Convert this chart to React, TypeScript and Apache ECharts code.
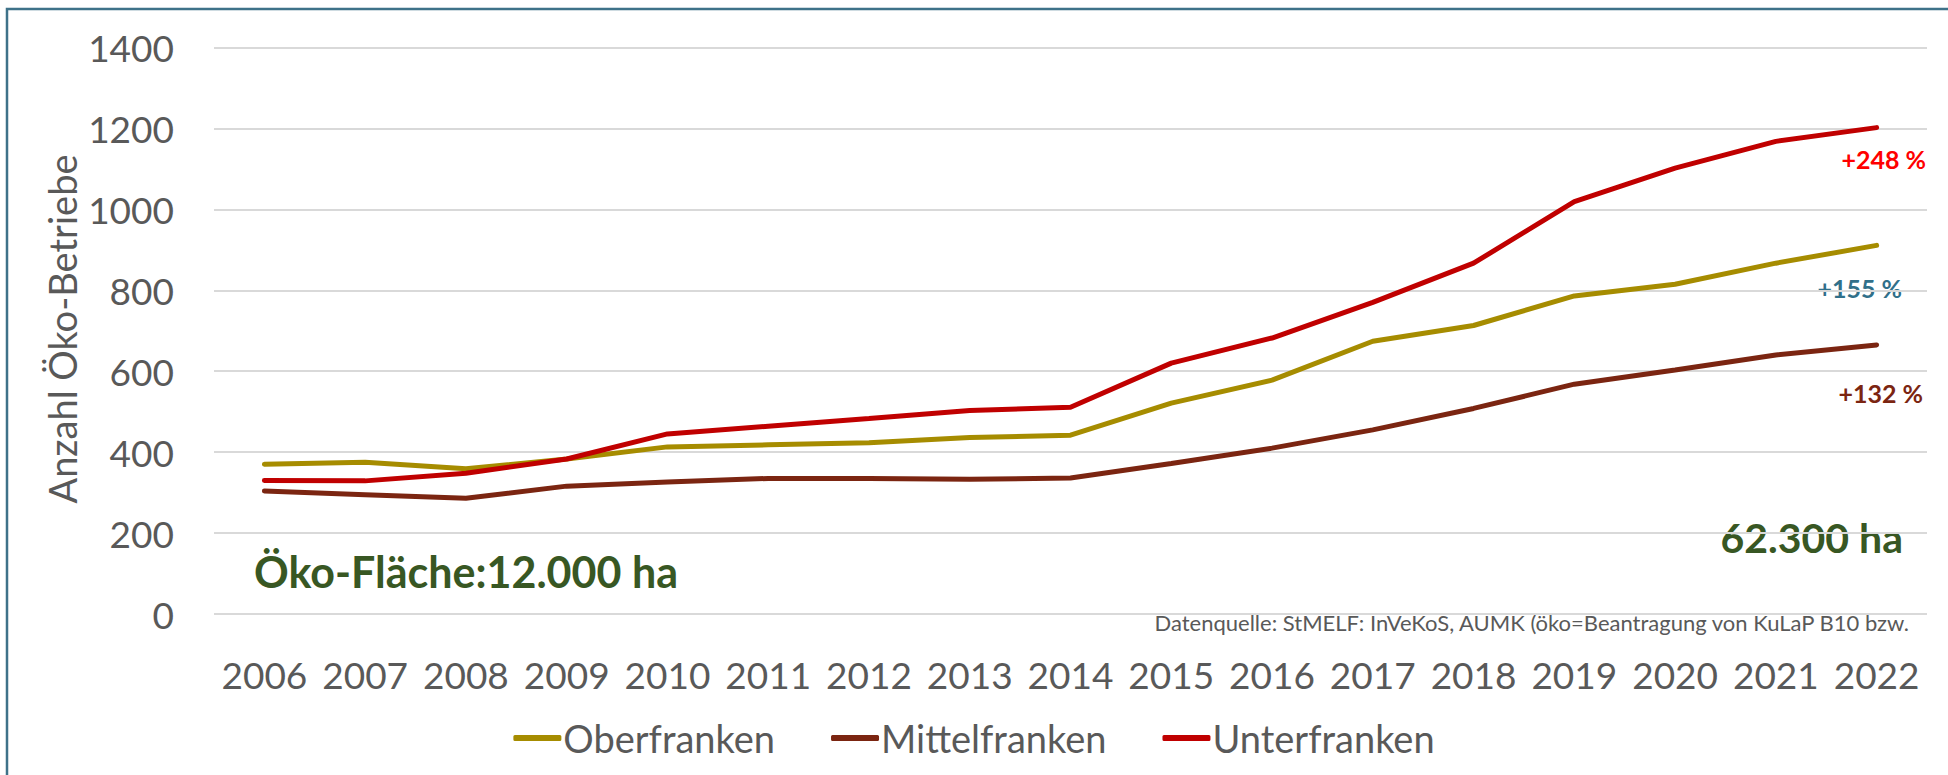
import React, { useEffect, useRef } from "react";
import * as echarts from "echarts";

const years = ["2006","2007","2008","2009","2010","2011","2012","2013","2014","2015","2016","2017","2018","2019","2020","2021","2022"];
const oberfranken = [370, 375, 359, 383, 413, 418, 423, 436, 442, 521, 578, 674, 713, 786, 815, 867, 911];
const mittelfranken = [304, 295, 286, 316, 326, 335, 335, 333, 336, 372, 410, 455, 508, 568, 603, 640, 665];
const unterfranken = [330, 329, 348, 383, 445, 464, 483, 503, 511, 620, 682, 770, 867, 1019, 1102, 1168, 1202];
const seriesNames = ["Oberfranken", "Mittelfranken", "Unterfranken"];
const seriesColors = ["#A68C00", "#7B2511", "#C00000"];
const yTicks = { min: 0, max: 1400, interval: 200 };

const FONT = "Lato, 'Open Sans', sans-serif";
const GRAY = "#595959";
const GREEN = "#385723";

export default function App() {
  const ref = useRef<HTMLDivElement>(null);
  useEffect(() => {
    if (!ref.current) return;
    const chart = echarts.init(ref.current, null, { renderer: "svg" });
    const data = [oberfranken, mittelfranken, unterfranken];
    chart.setOption({
      animation: false,
      backgroundColor: "#ffffff",
      textStyle: { fontFamily: FONT },
      grid: { left: 214, right: 21, top: 47.5, bottom: 161, containLabel: false },
      xAxis: {
        type: "category",
        data: years,
        boundaryGap: true,
        axisLine: { show: false },
        axisTick: { show: false },
        axisLabel: { color: GRAY, fontSize: 37, fontFamily: FONT, margin: 42, interval: 0 },
      },
      yAxis: {
        type: "value",
        min: yTicks.min,
        max: yTicks.max,
        interval: yTicks.interval,
        axisLine: { show: false },
        axisTick: { show: false },
        axisLabel: { color: GRAY, fontSize: 37, fontFamily: FONT, margin: 40, formatter: (v: number) => String(v) },
        splitLine: { lineStyle: { color: "#d9d9d9", width: 2 } },
      },
      legend: {
        data: seriesNames,
        left: "center",
        top: 714,
        icon: "roundRect",
        itemWidth: 48,
        itemHeight: 6,
        itemGap: 56,
        textStyle: { color: GRAY, fontSize: 38, fontFamily: FONT, padding: [0, 0, 0, -3] },
      },
      series: data.map((d, i) => ({
        name: seriesNames[i],
        type: "line",
        data: d,
        symbol: "none",
        lineStyle: { color: seriesColors[i], width: 5, cap: "round" },
        itemStyle: { color: seriesColors[i] },
        z: 3,
      })),
      graphic: [
        {
          type: "rect",
          shape: { x: 7, y: 9, width: 3000, height: 3000 },
          style: { fill: "none", stroke: "#3E7289", lineWidth: 2.5 },
          silent: true,
        },
        {
          type: "text",
          x: 62,
          y: 329,
          rotation: Math.PI / 2,
          style: { text: "Anzahl Öko-Betriebe", fill: GRAY, font: `38px ${FONT}`, textAlign: "center", textVerticalAlign: "middle" },
        },
        {
          type: "text",
          x: 254,
          y: 571,
          style: { text: "Öko-Fläche:12.000 ha", fill: GREEN, font: `bold 43px ${FONT}`, textAlign: "left", textVerticalAlign: "middle" },
        },
        {
          type: "text",
          x: 1903,
          y: 537,
          style: { text: "62.300 ha", fill: GREEN, font: `bold 41px ${FONT}`, textAlign: "right", textVerticalAlign: "middle" },
        },
        {
          type: "text",
          x: 1909,
          y: 622,
          style: { text: "Datenquelle: StMELF: InVeKoS, AUMK (öko=Beantragung von KuLaP B10 bzw.", fill: GRAY, font: `22px ${FONT}`, textAlign: "right", textVerticalAlign: "middle" },
        },
        {
          type: "text",
          x: 1926,
          y: 159,
          style: { text: "+248 %", fill: "#FF0000", font: `bold 25px ${FONT}`, textAlign: "right", textVerticalAlign: "middle" },
        },
        {
          type: "text",
          x: 1902,
          y: 288,
          style: { text: "+155 %", fill: "#31708A", font: `bold 25px ${FONT}`, textAlign: "right", textVerticalAlign: "middle" },
        },
        {
          type: "text",
          x: 1923,
          y: 393,
          style: { text: "+132 %", fill: "#7B2511", font: `bold 25px ${FONT}`, textAlign: "right", textVerticalAlign: "middle" },
        },
      ],
    });
    return () => chart.dispose();
  }, []);
  return <div ref={ref} style={{ position: "absolute", left: 0, top: 0, width: 1948, height: 775 }} />;
}
